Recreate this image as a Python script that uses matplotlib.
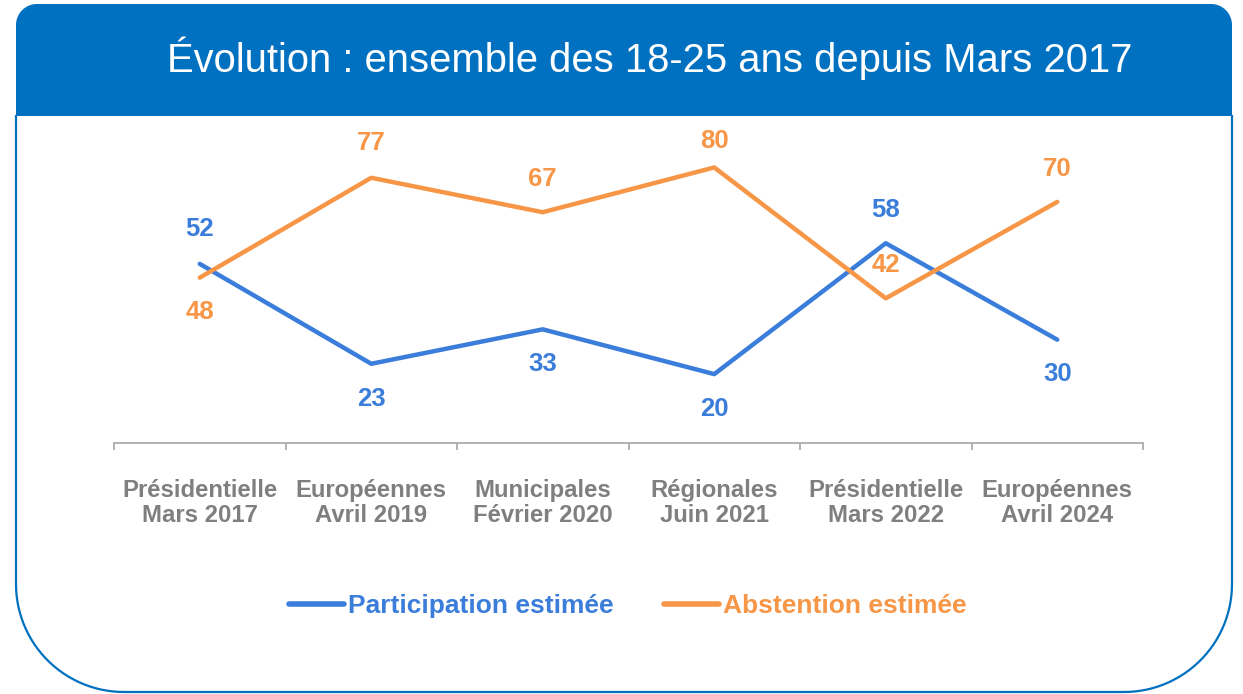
import numpy as np
import matplotlib
matplotlib.use("Agg")
import matplotlib.pyplot as plt
from matplotlib.lines import Line2D

plt.rcParams['font.family'] = ['Liberation Sans', 'DejaVu Sans']

# data
categories = ["Présidentielle\nMars 2017", "Européennes\nAvril 2019", "Municipales\nFévrier 2020",
              "Régionales\nJuin 2021", "Présidentielle\nMars 2022", "Européennes\nAvril 2024"]
participation = [52, 23, 33, 20, 58, 30]
abstention = [48, 77, 67, 80, 42, 70]
# label offsets in points (positive = above the point)
part_offset = [25, -25, -25, -25, 24, -25]
abst_offset = [-25, 25, 24, 19, 24, 24]

title = "Évolution : ensemble des 18-25 ans depuis Mars 2017"
BLUE = "#3A7DDA"
ORANGE = "#F79646"
HEADER = "#0070C0"
GREY = "#7F7F7F"

W, H = 1243, 694
fig = plt.figure(figsize=(W / 100, H / 100), dpi=100)

# background frame in pixel coordinates
bg = fig.add_axes([0, 0, 1, 1])
bg.set_xlim(0, W)
bg.set_ylim(H, 0)
bg.axis("off")


def arc(cx, cy, r, a0, a1, n=30):
    t = np.radians(np.linspace(a0, a1, n))
    return np.column_stack([cx + r * np.cos(t), cy - r * np.sin(t)])


x0, x1, y0, y1, yh = 16, 1232, 4, 692, 116
rt, rb = 21, 108
# header
hdr = np.vstack([[[x0, yh]], arc(x0 + rt, y0 + rt, rt, 180, 90), arc(x1 - rt, y0 + rt, rt, 90, 0), [[x1, yh]]])
bg.fill(hdr[:, 0], hdr[:, 1], color=HEADER, lw=0, zorder=1)
# body outline
body = np.vstack([[[x0, yh]], arc(x0 + rb, y1 - rb, rb, 180, 270), arc(x1 - rb, y1 - rb, rb, 270, 360), [[x1, yh]]])
bg.plot(body[:, 0], body[:, 1], color=HEADER, lw=1.6, zorder=1)
bg.text(650, 58, title, color="white", fontsize=28.8, ha="center", va="center")

# chart
ax = fig.add_axes([114 / W, 1 - 443 / H, (1143 - 114) / W, 310 / H])
x = np.arange(len(categories))
ax.plot(x, participation, color=BLUE, lw=3.2, solid_capstyle="round")
ax.plot(x, abstention, color=ORANGE, lw=3.2, solid_capstyle="round")
for xi, v, o in zip(x, participation, part_offset):
    ax.annotate(str(v), (xi, v), xytext=(0, o), textcoords="offset points",
                ha="center", va="center", color=BLUE, fontsize=18.5, fontweight="bold")
for xi, v, o in zip(x, abstention, abst_offset):
    ax.annotate(str(v), (xi, v), xytext=(0, o), textcoords="offset points",
                ha="center", va="center", color=ORANGE, fontsize=18.5, fontweight="bold")

ax.set_xlim(-0.5, len(categories) - 0.5)
ax.set_ylim(0, 90)
ax.set_yticks([])
for sp in ["top", "right", "left"]:
    ax.spines[sp].set_visible(False)
ax.spines["bottom"].set_color("#A6A6A6")
ax.spines["bottom"].set_linewidth(1.2)
ax.set_xticks(x)
ax.set_xticklabels(categories, color=GREY, fontsize=17.2, fontweight="bold", linespacing=1.12)
ax.tick_params(axis="x", which="major", length=0, pad=26)
ax.set_xticks(np.arange(-0.5, len(categories)), minor=True)
ax.tick_params(axis="x", which="minor", length=5, width=1.2, color="#A6A6A6", direction="out")
ax.patch.set_alpha(0)

handles = [Line2D([], [], color=BLUE, lw=4, solid_capstyle="round"),
           Line2D([], [], color=ORANGE, lw=4, solid_capstyle="round")]
leg = fig.legend(handles, ["Participation estimée", "Abstention estimée"], loc="center",
                 bbox_to_anchor=(628 / W, 1 - 606 / H), ncol=2, frameon=False,
                 prop={"size": 19, "weight": "bold"}, handlelength=2.1, handletextpad=0.15,
                 columnspacing=1.9, labelcolor="linecolor")

fig.savefig("out.png", dpi=100)
